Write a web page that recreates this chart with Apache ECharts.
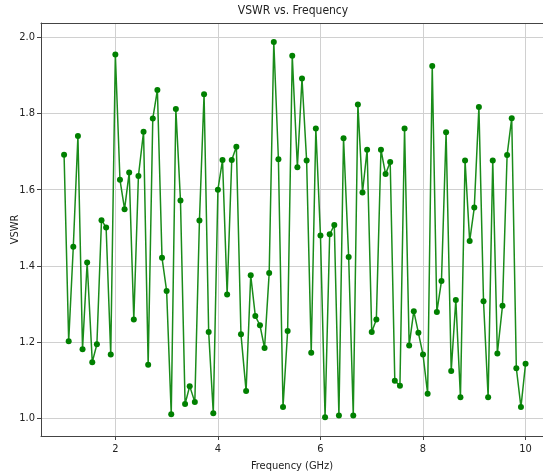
<!DOCTYPE html>
<html>
<head>
<meta charset="utf-8">
<script src="https://cdn.jsdelivr.net/npm/echarts@6/dist/echarts.min.js"></script>
<style>
  html, body { margin: 0; padding: 0; background: #fff; }
  #main { width: 543px; height: 473px; }
</style>
</head>
<body>
<div id="main"></div>
<script>
// 频率 (GHz)
var freq = [
  1.00, 1.09, 1.18, 1.27, 1.36, 1.45, 1.55, 1.64, 1.73, 1.82, 1.91,
  2.00, 2.09, 2.18, 2.27, 2.36, 2.45, 2.55, 2.64, 2.73, 2.82, 2.91,
  3.00, 3.09, 3.18, 3.27, 3.36, 3.45, 3.55, 3.64, 3.73, 3.82, 3.91,
  4.00, 4.09, 4.18, 4.27, 4.36, 4.45, 4.55, 4.64, 4.73, 4.82, 4.91,
  5.00, 5.09, 5.18, 5.27, 5.36, 5.45, 5.55, 5.64, 5.73, 5.82, 5.91,
  6.00, 6.09, 6.18, 6.27, 6.36, 6.45, 6.55, 6.64, 6.73, 6.82, 6.91,
  7.00, 7.09, 7.18, 7.27, 7.36, 7.45, 7.55, 7.64, 7.73, 7.82, 7.91,
  8.00, 8.09, 8.18, 8.27, 8.36, 8.45, 8.55, 8.64, 8.73, 8.82, 8.91,
  9.00, 9.09, 9.18, 9.27, 9.36, 9.45, 9.55, 9.64, 9.73, 9.82, 9.91,
  10.00
];

// VSWR 值
var vswr = [
  1.692, 1.202, 1.450, 1.741, 1.181, 1.409, 1.147, 1.194, 1.520, 1.501,
  1.167, 1.955, 1.626, 1.549, 1.645, 1.259, 1.636, 1.752, 1.140, 1.787,
  1.862, 1.421, 1.334, 1.010, 1.812, 1.572, 1.037, 1.084, 1.042, 1.519,
  1.851, 1.226, 1.013, 1.600, 1.678, 1.325, 1.678, 1.713, 1.220, 1.071,
  1.375, 1.268, 1.244, 1.184, 1.381, 1.988, 1.680, 1.029, 1.229, 1.952,
  1.659, 1.892, 1.677, 1.172, 1.761, 1.480, 1.002, 1.483, 1.507, 1.007,
  1.735, 1.423, 1.007, 1.824, 1.593, 1.705, 1.226, 1.259, 1.705, 1.641,
  1.673, 1.098, 1.085, 1.761, 1.191, 1.281, 1.224, 1.167, 1.064, 1.925,
  1.279, 1.360, 1.751, 1.124, 1.310, 1.055, 1.677, 1.465, 1.553, 1.817,
  1.307, 1.055, 1.677, 1.170, 1.295, 1.691, 1.788, 1.131, 1.029, 1.143
];

var titleText = 'VSWR vs. Frequency';
var xName = 'Frequency (GHz)';
var yName = 'VSWR';

var font = "'DejaVu Sans Condensed', 'Liberation Sans Narrow', 'DejaVu Sans', sans-serif";

var points = freq.map(function (f, i) { return [f, vswr[i]]; });

var myChart = echarts.init(document.getElementById('main'));

var option = {
    animation: false,
    backgroundColor: '#fff',
    textStyle: { fontFamily: font },
    graphic: [{
        type: 'text',
        x: 293,
        y: 5,
        style: { text: titleText, fontSize: 12, fill: '#222', fontFamily: font, textAlign: 'center' }
    }],
    grid: { left: 41, top: 23, right: 0, bottom: 37, containLabel: false, outerBoundsMode: 'none' },
    xAxis: [{
        type: 'value',
        min: 0.55,
        max: 10.34,
        splitNumber: 5,
        name: xName,
        nameLocation: 'middle',
        nameGap: 25,
        nameMoveOverlap: false,
        nameTextStyle: { fontSize: 11, color: '#222', fontFamily: font },
        axisLine: { show: true, lineStyle: { color: '#444', width: 1 } },
        axisTick: { show: true, length: 4, lineStyle: { color: '#444' } },
        axisLabel: {
            fontSize: 11, color: '#222', margin: 8, fontFamily: font,
            showMinLabel: false, showMaxLabel: false,
            formatter: function (v) { return Math.abs(v - Math.round(v)) < 1e-6 ? String(Math.round(v)) : ''; }
        },
        splitLine: { show: true, lineStyle: { color: '#d0d0d0', width: 1 } }
    }, {
        type: 'value',
        position: 'top',
        min: 0.55,
        max: 10.34,
        axisLine: { show: true, lineStyle: { color: '#444', width: 1 } },
        axisTick: { show: false },
        axisLabel: { show: false },
        splitLine: { show: false }
    }],
    yAxis: {
        type: 'value',
        min: 0.953,
        max: 2.038,
        splitNumber: 5,
        name: yName,
        nameLocation: 'middle',
        nameGap: 20,
        nameRotate: 90,
        nameMoveOverlap: false,
        nameTextStyle: { fontSize: 11, color: '#222', fontFamily: font },
        axisLine: { show: true, lineStyle: { color: '#444', width: 1 } },
        axisTick: { show: true, length: 4, lineStyle: { color: '#444' } },
        axisLabel: {
            fontSize: 11, color: '#222', margin: 6, fontFamily: font,
            showMinLabel: false, showMaxLabel: false,
            formatter: function (v) { return v.toFixed(1); }
        },
        splitLine: { show: true, lineStyle: { color: '#d0d0d0', width: 1 } }
    },
    series: [{
        type: 'line',
        data: points,
        xAxisIndex: 0,
        symbol: 'circle',
        symbolSize: 6,
        showSymbol: true,
        lineStyle: { color: '#1a8c1a', width: 1.5 },
        itemStyle: { color: '#008000', borderWidth: 0 }
    }]
};

myChart.setOption(option);
</script>
</body>
</html>
